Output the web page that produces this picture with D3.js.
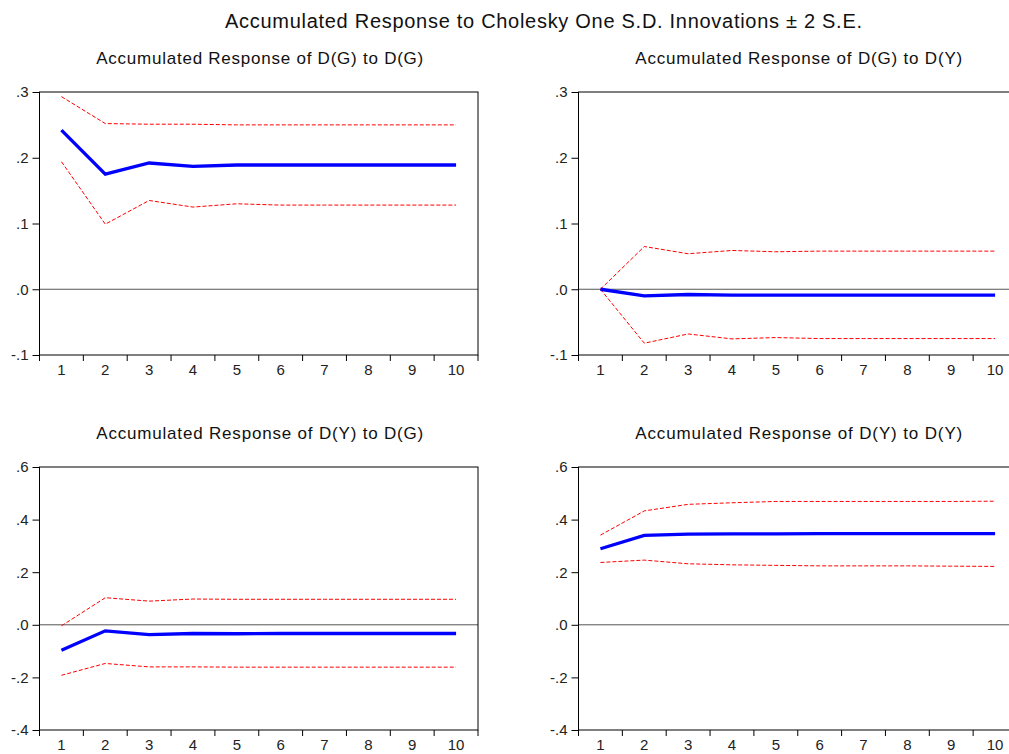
<!DOCTYPE html>
<html lang="en">
  <head>
    <meta charset="UTF-8" />
    <title>Accumulated Response to Cholesky One S.D. Innovations</title>
    <script src="https://d3js.org/d3.v7.min.js"></script>
    <style>
      body {
        margin: 0;
        background-color: #fff;
        font-family: "Liberation Sans", Arial, sans-serif;
      }
      svg {
        display: block;
      }
      .frame {
        fill: none;
        stroke: #000;
        stroke-width: 1;
      }
      .tick text {
        font-size: 15px;
        fill: #222;
      }
    </style>
  </head>
  <body>
    <svg id="chart"></svg>

    <script>
      // Periods 1..10
      const periods = [1, 2, 3, 4, 5, 6, 7, 8, 9, 10];

      // D(G) to D(G)
      const gg = [0.242, 0.175, 0.192, 0.187, 0.189, 0.189, 0.189, 0.189, 0.189, 0.189];
      const ggUpper = [0.293, 0.252, 0.251, 0.251, 0.250, 0.250, 0.250, 0.250, 0.250, 0.250];
      const ggLower = [0.194, 0.099, 0.135, 0.125, 0.130, 0.128, 0.128, 0.128, 0.128, 0.128];

      // D(G) to D(Y)
      const gy = [0.0, -0.010, -0.008, -0.009, -0.009, -0.009, -0.009, -0.009, -0.009, -0.009];
      const gyUpper = [0.0, 0.065, 0.054, 0.059, 0.057, 0.058, 0.058, 0.058, 0.058, 0.058];
      const gyLower = [0.0, -0.082, -0.068, -0.0755, -0.0735, -0.075, -0.075, -0.075, -0.075, -0.075];

      // D(Y) to D(G)
      const yg = [-0.097, -0.023, -0.037, -0.033, -0.034, -0.033, -0.033, -0.033, -0.033, -0.033];
      const ygUpper = [-0.004, 0.103, 0.090, 0.098, 0.097, 0.097, 0.097, 0.097, 0.097, 0.097];
      const ygLower = [-0.192, -0.147, -0.160, -0.160, -0.161, -0.161, -0.161, -0.161, -0.161, -0.161];

      // D(Y) to D(Y)
      const yy = [0.289, 0.340, 0.345, 0.346, 0.346, 0.347, 0.347, 0.347, 0.347, 0.347];
      const yyUpper = [0.341, 0.433, 0.458, 0.464, 0.469, 0.469, 0.469, 0.469, 0.469, 0.470];
      const yyLower = [0.237, 0.246, 0.232, 0.228, 0.226, 0.224, 0.224, 0.224, 0.223, 0.222];

      const topTicks = [-0.1, 0.0, 0.1, 0.2, 0.3];
      const bottomTicks = [-0.4, -0.2, 0.0, 0.2, 0.4, 0.6];

      const mainTitle = "Accumulated Response to Cholesky One S.D. Innovations \u00b1 2 S.E.";

      const panels = [
        { title: "Accumulated Response of D(G) to D(G)", mid: gg, hi: ggUpper, lo: ggLower, ticks: topTicks, col: 0, row: 0 },
        { title: "Accumulated Response of D(G) to D(Y)", mid: gy, hi: gyUpper, lo: gyLower, ticks: topTicks, col: 1, row: 0 },
        { title: "Accumulated Response of D(Y) to D(G)", mid: yg, hi: ygUpper, lo: ygLower, ticks: bottomTicks, col: 0, row: 1 },
        { title: "Accumulated Response of D(Y) to D(Y)", mid: yy, hi: yyUpper, lo: yyLower, ticks: bottomTicks, col: 1, row: 1 },
      ];

      const width = 1009;
      const height = 754;
      const panelW = 438.5;
      const panelH = 263;
      const lefts = [39.5, 578.5];
      const tops = [92, 467];

      const svg = d3
        .select("#chart")
        .attr("width", width)
        .attr("height", height)
        .attr("viewBox", [0, 0, width, height]);

      svg
        .append("text")
        .attr("x", 543.5)
        .attr("y", 28)
        .attr("text-anchor", "middle")
        .attr("textLength", 637)
        .attr("lengthAdjust", "spacing")
        .style("font-size", "20px")
        .style("fill", "#111")
        .text(mainTitle);

      // label format: ".3", ".0", "-.1"
      const fmt = (v) => d3.format(".1f")(v).replace("0.", ".").replace("\u2212", "-");

      panels.forEach((p) => {
        const x0 = lefts[p.col];
        const y0 = tops[p.row];
        const g = svg.append("g").attr("transform", `translate(${x0},${y0})`);

        const x = d3.scaleBand().domain(periods).range([0, panelW]);
        const y = d3
          .scaleLinear()
          .domain([p.ticks[0], p.ticks[p.ticks.length - 1]])
          .range([panelH, 0]);

        // subplot title
        g.append("text")
          .attr("x", panelW / 2 + 1)
          .attr("y", -28)
          .attr("text-anchor", "middle")
          .attr("textLength", 327)
          .attr("lengthAdjust", "spacing")
          .style("font-size", "17px")
          .style("fill", "#111")
          .text(p.title);

        // zero line
        g.append("line")
          .attr("x1", 0)
          .attr("x2", panelW)
          .attr("y1", y(0))
          .attr("y2", y(0))
          .attr("stroke", "#555")
          .attr("stroke-width", 1);

        const line = d3
          .line()
          .x((d, i) => x(periods[i]) + x.bandwidth() / 2)
          .y((d) => y(d));

        [p.hi, p.lo].forEach((band) => {
          g.append("path")
            .attr("d", line(band))
            .attr("fill", "none")
            .attr("stroke", "#ff0000")
            .attr("stroke-width", 1)
            .attr("stroke-dasharray", "4,2");
        });

        g.append("path")
          .attr("d", line(p.mid))
          .attr("fill", "none")
          .attr("stroke", "#0000ff")
          .attr("stroke-width", 3.3);

        // y axis
        const yAxis = g
          .append("g")
          .call(
            d3.axisLeft(y).tickValues(p.ticks).tickFormat(fmt).tickSize(7).tickPadding(4)
          );
        yAxis.select(".domain").remove();

        // x axis: labels centred in bands, ticks on band edges
        const xAxis = g
          .append("g")
          .attr("transform", `translate(0,${panelH})`)
          .call(d3.axisBottom(x).tickSize(0).tickPadding(9));
        xAxis.select(".domain").remove();

        const edges = d3.range(periods.length + 1).map((i) => i * x.step());
        g.append("g")
          .selectAll("line")
          .data(edges)
          .join("line")
          .attr("x1", (d) => d)
          .attr("x2", (d) => d)
          .attr("y1", panelH)
          .attr("y2", panelH + 6)
          .attr("stroke", "#000");

        g.append("rect")
          .attr("class", "frame")
          .attr("width", panelW)
          .attr("height", panelH);
      });
    </script>
  </body>
</html>
